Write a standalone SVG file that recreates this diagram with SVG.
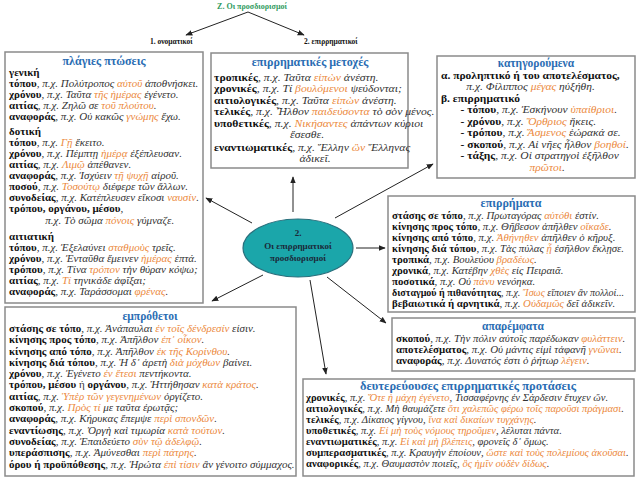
<svg xmlns="http://www.w3.org/2000/svg" width="638" height="479" viewBox="0 0 638 479">
<style>
text{font-family:"Liberation Serif","Times New Roman",serif}
.l{font-size:10px;font-style:italic;fill:#333}
.b{font-style:normal;font-weight:bold;fill:#111}
.o{fill:#ec8a3e}
.h{font-size:11.5px;font-weight:bold;fill:#2a6db3;text-anchor:middle}
.box{fill:#fff;stroke:#8a8a8a;stroke-width:1.5}
.c{stroke:#222;stroke-width:1;fill:none;marker-end:url(#ah)}
.top{font-size:7.5px;font-weight:bold;fill:#111}
.e{font-size:9px;font-weight:bold;fill:#1b2838;text-anchor:middle}
</style>
<defs>
<marker id="ah" viewBox="0 0 10 10" refX="9" refY="5" markerWidth="7" markerHeight="7" orient="auto" markerUnits="userSpaceOnUse"><path d="M0,1 L10,5 L0,9 z" fill="#222"/></marker>
</defs>
<g id="title">
<text x="252" y="9" text-anchor="middle" style="font-size:8px;font-weight:bold;fill:#2f9a5d">Ζ. Οι προσδιορισμοί</text>
</g>
<g id="onomatikoi"><text class="top" x="150" y="44">1. ονοματικοί</text></g>
<g id="epirrimatikoi"><text class="top" x="304" y="44">2. επιρρηματικοί</text></g>
<g id="connectors">
<line class="c" x1="248" y1="12" x2="186" y2="35"/>
<line class="c" x1="248" y1="12" x2="304" y2="35"/>
<line class="c" x1="252" y1="223" x2="206" y2="198"/>
<line class="c" x1="293" y1="212" x2="293" y2="177"/>
<line class="c" x1="335" y1="218" x2="433" y2="164"/>
<line class="c" x1="356" y1="248" x2="385" y2="248"/>
<line class="c" x1="327" y1="277" x2="386" y2="323"/>
<line class="c" x1="310" y1="280" x2="326" y2="374"/>
<line class="c" x1="263" y1="275" x2="212" y2="301"/>
</g>
<g id="center">
<ellipse cx="298" cy="248" rx="55" ry="29" fill="#1ba6aa" stroke="#2a6f7c" stroke-width="1.2"/>
<text class="e" x="298" y="236">2.</text>
<text class="e" x="298" y="249">Οι επιρρηματικοί</text>
<text class="e" x="298" y="261">προσδιορισμοί</text>
</g>
<g id="plagies">
<rect class="box" x="5" y="52" width="198" height="251"/>
<text class="h" x="104" y="65" style="font-size:12px">πλάγιες πτώσεις</text>
<g transform="translate(9,0) scale(1.1,1)">
<text class="l" x="0" y="76"><tspan class="b">γενική</tspan></text>
<text class="l" x="0" y="87"><tspan class="b">τόπου</tspan>, π.χ. Πολύτροπος <tspan class="o">αὐτοῦ</tspan> ἀποθνήσκει.</text>
<text class="l" x="0" y="98"><tspan class="b">χρόνου</tspan>, π.χ. Ταῦτα <tspan class="o">τῆς ἡμέρας</tspan> ἐγένετο.</text>
<text class="l" x="0" y="109"><tspan class="b">αιτίας</tspan>, π.χ. Ζηλῶ σε <tspan class="o">τοῦ πλούτου</tspan>.</text>
<text class="l" x="0" y="120"><tspan class="b">αναφοράς</tspan>, π.χ. Οὐ κακῶς <tspan class="o">γνώμης</tspan> ἔχω.</text>
<text class="l" x="0" y="135"><tspan class="b">δοτική</tspan></text>
<text class="l" x="0" y="146"><tspan class="b">τόπου</tspan>, π.χ. <tspan class="o">Γῇ</tspan> ἔκειτο.</text>
<text class="l" x="0" y="157"><tspan class="b">χρόνου</tspan>, π.χ. Πέμπτῃ <tspan class="o">ἡμέρᾳ</tspan> ἐξέπλευσαν.</text>
<text class="l" x="0" y="168"><tspan class="b">αιτίας</tspan>, π.χ. <tspan class="o">Λιμῷ</tspan> ἀπέθανεν.</text>
<text class="l" x="0" y="179"><tspan class="b">αναφοράς</tspan>, π.χ. Ἰσχύειν <tspan class="o">τῇ ψυχῇ</tspan> αἱροῦ.</text>
<text class="l" x="0" y="190"><tspan class="b">ποσού</tspan>, π.χ. <tspan class="o">Τοσούτῳ</tspan> διέφερε τῶν ἄλλων.</text>
<text class="l" x="0" y="201"><tspan class="b">συνοδείας</tspan>, π.χ. Κατέπλευσεν εἴκοσι <tspan class="o">ναυσίν</tspan>.</text>
<text class="l" x="0" y="212"><tspan class="b">τρόπου, οργάνου, μέσου</tspan>,</text>
<text class="l" x="33" y="224">π.χ. Τὸ σῶμα <tspan class="o">πόνοις</tspan> γύμναζε.</text>
<text class="l" x="0" y="240"><tspan class="b">αιτιατική</tspan></text>
<text class="l" x="0" y="251"><tspan class="b">τόπου</tspan>, π.χ. Ἐξελαύνει <tspan class="o">σταθμοὺς</tspan> τρεῖς.</text>
<text class="l" x="0" y="262"><tspan class="b">χρόνου</tspan>, π.χ. Ἐνταῦθα ἔμεινεν <tspan class="o">ἡμέρας</tspan> ἑπτά.</text>
<text class="l" x="0" y="273"><tspan class="b">τρόπου</tspan>, π.χ. Τίνα <tspan class="o">τρόπον</tspan> τὴν θύραν κόψω;</text>
<text class="l" x="0" y="284"><tspan class="b">αιτίας</tspan>, π.χ. <tspan class="o">Τί</tspan> τηνικάδε ἀφῖξαι;</text>
<text class="l" x="0" y="295"><tspan class="b">αναφοράς</tspan>, π.χ. Ταράσσομαι <tspan class="o">φρένας</tspan>.</text>
</g>
</g>
<g id="metoxes">
<rect class="box" x="211" y="53" width="197" height="115"/>
<text class="h" x="310" y="66" style="font-size:12px">επιρρηματικές μετοχές</text>
<g transform="translate(214,0) scale(1.17,1)">
<text class="l" x="0" y="81"><tspan class="b">τροπικές</tspan>, π.χ. Ταῦτα <tspan class="o">εἰπὼν</tspan> ἀνέστη.</text>
<text class="l" x="0" y="92.5"><tspan class="b">χρονικές</tspan>, π.χ. Τί <tspan class="o">βουλόμενοι</tspan> ψεύδονται;</text>
<text class="l" x="0" y="104"><tspan class="b">αιτιολογικές</tspan>, π.χ. Ταῦτα <tspan class="o">εἰπὼν</tspan> ἀνέστη.</text>
<text class="l" x="0" y="115.5"><tspan class="b">τελικές</tspan>, π.χ. Ἦλθον <tspan class="o">παιδεύσοντα</tspan> τὸ σὸν μένος.</text>
<text class="l" x="0" y="127"><tspan class="b">υποθετικές</tspan>, π.χ. <tspan class="o">Νικήσαντες</tspan> ἁπάντων κύριοι</text>
<text class="l" x="65" y="138.5">ἔσεσθε.</text>
<text class="l" x="0" y="151"><tspan class="b">εναντιωματικές</tspan>, π.χ. Ἕλλην <tspan class="o">ὢν</tspan> Ἕλληνας</text>
<text class="l" x="73" y="162.5">ἀδικεῖ.</text>
</g>
</g>
<g id="katigoroumena">
<rect class="box" x="437" y="56" width="198" height="122"/>
<text class="h" x="536" y="67">κατηγορούμενα</text>
<g transform="translate(441,0) scale(1.15,1)">
<text class="l" x="0" y="79"><tspan class="b">α. προληπτικό ή του αποτελέσματος,</tspan></text>
<text class="l" x="22" y="90.5">π.χ. Φίλιππος <tspan class="o">μέγας</tspan> ηὐξήθη.</text>
<text class="l" x="0" y="102"><tspan class="b">β.  επιρρηματικό</tspan></text>
<text class="l" x="17" y="113.5"><tspan class="b">- τόπου</tspan>, π.χ. Ἐσκήνουν <tspan class="o">ὑπαίθριοι</tspan>.</text>
<text class="l" x="17" y="125"><tspan class="b">- χρόνου</tspan>, π.χ. <tspan class="o">Ὄρθριος</tspan> ἥκεις.</text>
<text class="l" x="17" y="136.5"><tspan class="b">- τρόπου</tspan>, π.χ. <tspan class="o">Ἄσμενος</tspan> ἑώρακά σε.</text>
<text class="l" x="17" y="148"><tspan class="b">- σκοπού</tspan>, π.χ. Αἱ νῆες ἦλθον <tspan class="o">βοηθοί</tspan>.</text>
<text class="l" x="17" y="159.5"><tspan class="b">- τάξης</tspan>, π.χ. Οἱ στρατηγοὶ ἐξῆλθον</text>
<text class="l" x="77" y="171"><tspan class="o">πρῶτοι</tspan>.</text>
</g>
</g>
<g id="epirrimata">
<rect class="box" x="388" y="196" width="247" height="116"/>
<text class="h" x="511" y="207" style="font-size:12px">επιρρήματα</text>
<g transform="translate(392,0) scale(1.08,1)">
<text class="l" x="0" y="219"><tspan class="b">στάσης σε τόπο</tspan>, π.χ. Πρωταγόρας <tspan class="o">αὐτόθι</tspan> ἐστίν.</text>
<text class="l" x="0" y="230"><tspan class="b">κίνησης προς τόπο</tspan>, π.χ. Θῆβεσον ἀπῆλθεν <tspan class="o">οἴκαδε</tspan>.</text>
<text class="l" x="0" y="241"><tspan class="b">κίνησης από τόπο</tspan>, π.χ. <tspan class="o">Ἀθήνηθεν</tspan> ἀπῆλθεν ὁ κῆρυξ.</text>
<text class="l" x="0" y="252"><tspan class="b">κίνησης διά τόπου</tspan>, π.χ. Τὰς πύλας <tspan class="o">ᾗ</tspan> ἐσῆλθον ἔκλῃσε.</text>
<text class="l" x="0" y="263"><tspan class="b">τροπικά</tspan>, π.χ. Βουλεύου <tspan class="o">βραδέως</tspan>.</text>
<text class="l" x="0" y="274"><tspan class="b">χρονικά</tspan>, π.χ. Κατέβην <tspan class="o">χθὲς</tspan> εἰς Πειραιᾶ.</text>
<text class="l" x="0" y="285"><tspan class="b">ποσοτικά</tspan>, π.χ. Οὐ <tspan class="o">πάνυ</tspan> νενόηκα.</text>
<text class="l" x="0" y="296" style="font-size:9.3px"><tspan class="b">δισταγμού ή πιθανότητας</tspan>, π.χ. <tspan class="o">Ἴσως</tspan> εἴποιεν ἂν πολλοί...</text>
<text class="l" x="0" y="307"><tspan class="b">βεβαιωτικά ή αρνητικά</tspan>, π.χ. <tspan class="o">Οὐδαμῶς</tspan> δεῖ ἀδικεῖν.</text>
</g>
</g>
<g id="aparemfata">
<rect class="box" x="392" y="318" width="243" height="53"/>
<text class="h" x="513" y="330">απαρέμφατα</text>
<g transform="translate(396,0) scale(1.09,1)">
<text class="l" x="0" y="342"><tspan class="b">σκοπού</tspan>, π.χ. Τὴν πόλιν αὐτοῖς παρέδωκαν <tspan class="o">φυλάττειν</tspan>.</text>
<text class="l" x="0" y="353"><tspan class="b">αποτελέσματος</tspan>, π.χ. Οὐ μάντις εἰμὶ τἀφανῆ <tspan class="o">γνῶναι</tspan>.</text>
<text class="l" x="0" y="364"><tspan class="b">αναφοράς</tspan>, π.χ. Δυνατός ἐστι ὁ ῥήτωρ <tspan class="o">λέγειν</tspan>.</text>
</g>
</g>
<g id="emprothetoi">
<rect class="box" x="5" y="307" width="291" height="169"/>
<text class="h" x="150" y="320">εμπρόθετοι</text>
<g transform="translate(9,0) scale(1.1,1)">
<text class="l" x="0" y="332"><tspan class="b">στάσης σε τόπο</tspan>, π.χ. Ἀνάπαυλαι <tspan class="o">ἐν τοῖς δένδρεσίν</tspan> εἰσιν.</text>
<text class="l" x="0" y="343.3"><tspan class="b">κίνησης προς τόπο</tspan>, π.χ. Ἀπῆλθον <tspan class="o">ἐπ᾽ οἶκον</tspan>.</text>
<text class="l" x="0" y="354.6"><tspan class="b">κίνησης από τόπο</tspan>, π.χ. Ἀπῆλθον <tspan class="o">ἐκ τῆς Κορίνθου</tspan>.</text>
<text class="l" x="0" y="365.9"><tspan class="b">κίνησης διά τόπου</tspan>, π.χ. Ἡ δ᾽ ἀρετὴ <tspan class="o">διὰ μόχθων</tspan> βαίνει.</text>
<text class="l" x="0" y="377.2"><tspan class="b">χρόνου</tspan>, π.χ. Ἐγένετο <tspan class="o">ἐν ἔτεσι</tspan> πεντήκοντα.</text>
<text class="l" x="0" y="388.5"><tspan class="b">τρόπου, μέσου</tspan><tspan style="font-style:normal"> ή </tspan><tspan class="b">οργάνου</tspan>, π.χ. Ἡττήθησαν <tspan class="o">κατὰ κράτος</tspan>.</text>
<text class="l" x="0" y="399.8"><tspan class="b">αιτίας</tspan>, π.χ. <tspan class="o">Ὑπὲρ τῶν γεγενημένων</tspan> ὀργίζετο.</text>
<text class="l" x="0" y="411.1"><tspan class="b">σκοπού</tspan>, π.χ. <tspan class="o">Πρὸς τί</tspan> με ταῦτα ἐρωτᾷς;</text>
<text class="l" x="0" y="422.4"><tspan class="b">αναφοράς</tspan>, π.χ. Κήρυκας ἔπεμψε <tspan class="o">περὶ σπονδῶν</tspan>.</text>
<text class="l" x="0" y="433.7"><tspan class="b">εναντίωσης</tspan>, π.χ. Ὀργὴ καὶ τιμωρία <tspan class="o">κατὰ τούτων</tspan>.</text>
<text class="l" x="0" y="445"><tspan class="b">συνοδείας</tspan>, π.χ. Ἐπαιδεύετο <tspan class="o">σὺν τῷ ἀδελφῷ</tspan>.</text>
<text class="l" x="0" y="456.3"><tspan class="b">υπεράσπισης</tspan>, π.χ. Ἀμύνεσθαι <tspan class="o">περὶ πάτρης</tspan>.</text>
<text class="l" x="0" y="467.6"><tspan class="b">όρου ή προϋπόθεσης</tspan>, π.χ. Ἠρώτα <tspan class="o">ἐπὶ τίσιν</tspan> ἂν γένοιτο σύμμαχος.</text>
</g>
</g>
<g id="protaseis">
<rect class="box" x="303" y="379" width="331" height="97"/>
<text class="h" x="468" y="390" style="font-size:12.5px">δευτερεύουσες επιρρηματικές προτάσεις</text>
<g transform="translate(306,0) scale(1.06,1)">
<text class="l" x="0" y="401"><tspan class="b">χρονικές</tspan>, π.χ. <tspan class="o">Ὅτε ἡ μάχη ἐγένετο</tspan>, Τισσαφέρνης ἐν Σάρδεσιν ἔτυχεν ὤν.</text>
<text class="l" x="0" y="412"><tspan class="b">αιτιολογικές</tspan>, π.χ. Μὴ θαυμάζετε <tspan class="o">ὅτι χαλεπῶς φέρω τοῖς παροῦσι πράγμασι</tspan>.</text>
<text class="l" x="0" y="423"><tspan class="b">τελικές</tspan>, π.χ. Δίκαιος γίγνου, <tspan class="o">ἵνα καὶ δικαίων τυγχάνῃς</tspan>.</text>
<text class="l" x="0" y="434"><tspan class="b">υποθετικές</tspan>, π.χ. <tspan class="o">Εἰ μὴ τοὺς νόμους τηροῦμεν</tspan>, λέλυται πάντα.</text>
<text class="l" x="0" y="445"><tspan class="b">εναντιωματικές</tspan>, π.χ. <tspan class="o">Εἰ καὶ μὴ βλέπεις</tspan>, φρονεῖς δ᾽ ὅμως.</text>
<text class="l" x="0" y="456"><tspan class="b">συμπερασματικές</tspan>, π.χ. Κραυγὴν ἐποίουν, <tspan class="o">ὥστε καὶ τοὺς πολεμίους ἀκοῦσαι</tspan>.</text>
<text class="l" x="0" y="467"><tspan class="b">αναφορικές</tspan>, π.χ. Θαυμαστὸν ποιεῖς, <tspan class="o">ὃς ἡμῖν οὐδὲν δίδως</tspan>.</text>
</g>
</g>
</svg>
